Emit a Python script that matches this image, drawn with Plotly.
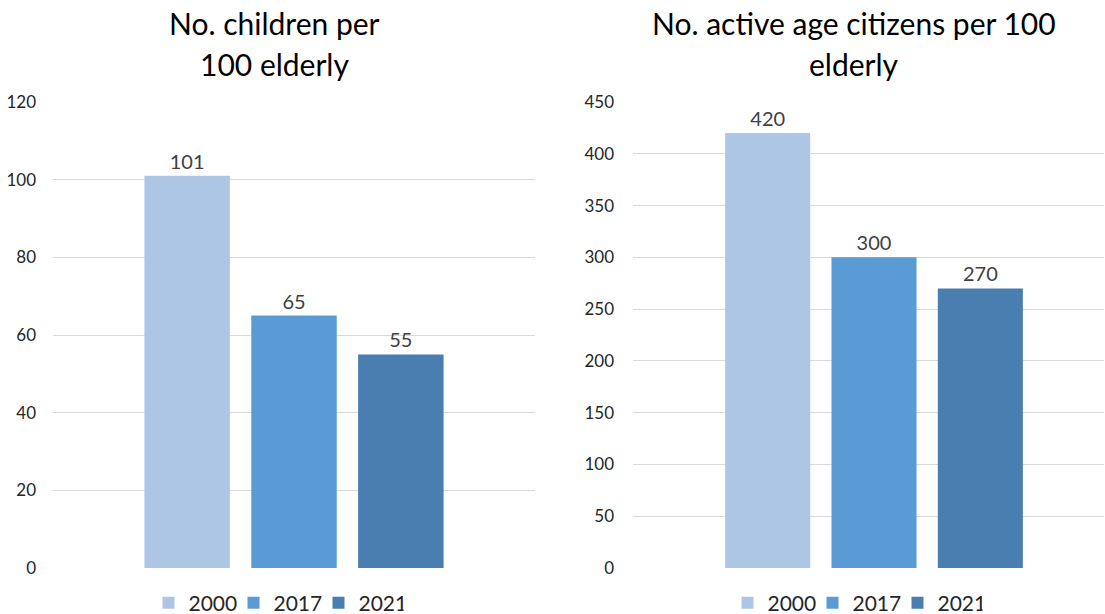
import plotly.graph_objects as go

years = ["2000", "2017", "2021"]
children_per_100_elderly = [101, 65, 55]
active_per_100_elderly = [420, 300, 270]
colors = ["#ADC6E6", "#5B9BD5", "#4A7EB0"]

title_left = ["No. children per", "100 elderly"]
title_right = ["No. active age citizens per 100", "elderly"]

FONT = "Lato"
W, H = 1105, 614
ml, mr, mt, mb = 53, 1, 102, 46
pw = W - ml - mr
ph = H - mt - mb

def px_x(p):
    return (p - ml) / pw

def px_y(p):
    return (H - mb - p) / ph

fig = go.Figure()
for i, yr in enumerate(years):
    fig.add_trace(go.Bar(
        x=[""], y=[children_per_100_elderly[i]], name=yr,
        marker=dict(color=colors[i], line=dict(width=0)),
        text=[str(children_per_100_elderly[i])], textposition="outside",
        textfont=dict(family=FONT, size=20, color="#404040"),
        cliponaxis=False,
        xaxis="x", yaxis="y", legend="legend",
    ))
for i, yr in enumerate(years):
    fig.add_trace(go.Bar(
        x=[""], y=[active_per_100_elderly[i]], name=yr,
        marker=dict(color=colors[i], line=dict(width=0)),
        text=[str(active_per_100_elderly[i])], textposition="outside",
        textfont=dict(family=FONT, size=20, color="#404040"),
        cliponaxis=False,
        xaxis="x2", yaxis="y2", legend="legend2",
    ))

axis_common = dict(showgrid=True, gridcolor="#D9D9D9", gridwidth=1,
                   zeroline=False, showline=False, ticks="",
                   tickfont=dict(family=FONT, size=17, color="#262626"))

legend_common = dict(orientation="h", xanchor="center", yanchor="middle",
                     xref="container", yref="container",
                     font=dict(family=FONT, size=21, color="#262626"),
                     bgcolor="rgba(0,0,0,0)", itemclick=False,
                     entrywidth=40, entrywidthmode="pixels")

fig.update_layout(
    width=W, height=H,
    margin=dict(l=ml, r=mr, t=mt, b=mb, autoexpand=False),
    paper_bgcolor="white", plot_bgcolor="white",
    barmode="group", bargap=0.335, bargroupgap=0.2,
    font=dict(family=FONT),
    xaxis=dict(domain=[0, px_x(535)], range=[-0.5, 0.5], showticklabels=False,
               showgrid=False, zeroline=False, showline=False, fixedrange=True),
    xaxis2=dict(domain=[px_x(633), 1], range=[-0.5025, 0.4795], showticklabels=False,
                showgrid=False, zeroline=False, showline=False, fixedrange=True),
    yaxis=dict(anchor="x", range=[0, 120], dtick=20, ticklabelstandoff=16, **axis_common),
    yaxis2=dict(anchor="x2", range=[0, 450], dtick=50, ticklabelstandoff=18, **axis_common),
    legend=dict(x=276 / W, y=(H - 603) / H, **legend_common),
    legend2=dict(x=855 / W, y=(H - 603) / H, **legend_common),
    showlegend=True,
)

def add_title(lines, cx):
    for j, line in enumerate(lines):
        fig.add_annotation(text=line, xref="paper", yref="paper",
                           x=px_x(cx), y=px_y(23 + 41 * j),
                           xanchor="center", yanchor="middle", showarrow=False,
                           font=dict(family=FONT, size=30, color="#000000"))

add_title(title_left, 274)
add_title(title_right, 854)

fig.write_html("out.html")
